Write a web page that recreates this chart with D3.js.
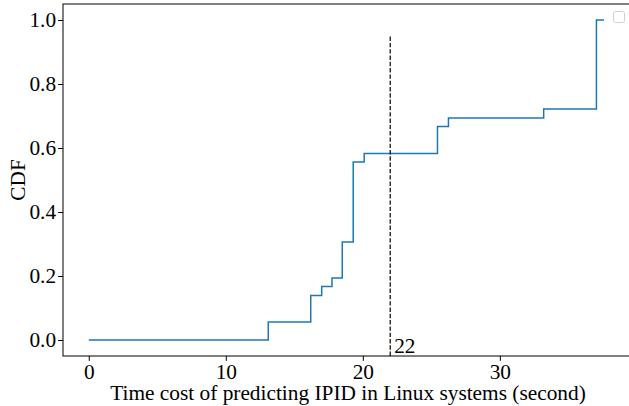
<!DOCTYPE html>
<html>
<head>
<meta charset="utf-8">
<script src="https://cdn.jsdelivr.net/npm/d3@7"></script>
<style>
  html, body { margin: 0; padding: 0; background: #fff; }
  svg { display: block; font-family: "Liberation Serif", "Times New Roman", serif; }
</style>
</head>
<body>
<svg id="chart" width="629" height="406"></svg>
<script>
// Step points of the empirical CDF (time in seconds, cumulative fraction)
const times = [0, 13.1, 16.2, 17.0, 17.75, 18.5, 19.3, 20.1, 25.45, 26.25, 33.2, 37.05, 37.6];
const cdfValues = [0, 0.056, 0.139, 0.167, 0.194, 0.306, 0.556, 0.583, 0.667, 0.694, 0.722, 1.0, 1.0];
const xTicks = [0, 10, 20, 30];
const yTicks = [0.0, 0.2, 0.4, 0.6, 0.8, 1.0];
const markerX = 22;
const markerTop = 0.95;
const markerLabel = "22";
const xLabel = "Time cost of predicting IPID in Linux systems (second)";
const yLabel = "CDF";

const FS = 21.33;
const svg = d3.select("#chart");
const mLeft = 63, mRight = 630, mTop = 4, mBottom = 356;

const x = d3.scaleLinear().domain([-1.88, 39.5]).range([mLeft, mRight]);
const y = d3.scaleLinear().domain([-0.05, 1.05]).range([mBottom, mTop]);

const data = times.map((t, i) => ({ t, v: cdfValues[i] }));

// CDF step line
const line = d3.line().x(d => x(d.t)).y(d => y(d.v)).curve(d3.curveStepAfter);
svg.append("path")
  .datum(data)
  .attr("fill", "none")
  .attr("stroke", "#1f77b4")
  .attr("stroke-width", 1.5)
  .attr("d", line);

// dashed marker line
svg.append("line")
  .attr("x1", x(markerX)).attr("x2", x(markerX))
  .attr("y1", y(-0.05)).attr("y2", y(markerTop))
  .attr("stroke", "#000")
  .attr("stroke-width", 1.2)
  .attr("stroke-dasharray", "4.4,1.9");

svg.append("text")
  .attr("x", x(markerX) + 4)
  .attr("y", 353)
  .attr("font-size", FS)
  .attr("fill", "#000")
  .text(markerLabel);

// Axes
const xAxis = d3.axisBottom(x).tickValues(xTicks).tickFormat(d3.format("d")).tickSize(4.9).tickPadding(3);
const gx = svg.append("g").attr("transform", `translate(0,${mBottom})`).call(xAxis);
const yAxis = d3.axisLeft(y).tickValues(yTicks).tickFormat(d3.format(".1f")).tickSize(4.9).tickPadding(2);
const gy = svg.append("g").attr("transform", `translate(${mLeft},0)`).call(yAxis);

[gx, gy].forEach(g => {
  g.select(".domain").remove();
  g.selectAll(".tick line").attr("stroke", "#000").attr("stroke-width", 1);
  g.selectAll(".tick text")
    .attr("fill", "#000")
    .attr("font-size", FS)
    .attr("font-family", "Liberation Serif, Times New Roman, serif");
});
gx.selectAll(".tick text").attr("dy", "0.69em");

// Frame (spines)
svg.append("rect")
  .attr("x", mLeft).attr("y", mTop)
  .attr("width", mRight - mLeft).attr("height", mBottom - mTop)
  .attr("fill", "none")
  .attr("stroke", "#000")
  .attr("stroke-width", 1);

// Empty legend box
svg.append("rect")
  .attr("x", 613.5).attr("y", 11.5)
  .attr("width", 11).attr("height", 11)
  .attr("rx", 2)
  .attr("fill", "#fff")
  .attr("stroke", "#d0d0d0")
  .attr("stroke-width", 1);

// Axis labels
svg.append("text")
  .attr("x", 348)
  .attr("y", 400)
  .attr("text-anchor", "middle")
  .attr("font-size", FS)
  .attr("fill", "#000")
  .text(xLabel);

svg.append("text")
  .attr("transform", `translate(25,${(mTop + mBottom) / 2}) rotate(-90)`)
  .attr("text-anchor", "middle")
  .attr("font-size", FS)
  .attr("fill", "#000")
  .text(yLabel);
</script>
</body>
</html>
